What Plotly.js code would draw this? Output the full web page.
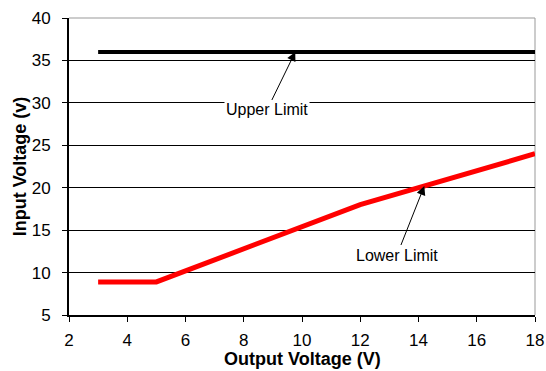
<!DOCTYPE html>
<html><head><meta charset="utf-8">
<script src="https://cdn.plot.ly/plotly-3.0.1.min.js"></script>
<style>html,body{margin:0;padding:0;background:#fff}#c{width:546px;height:371px}</style>
</head><body><div id="c"></div>
<script>
const upperX = [3, 18];
const upperY = [36, 36];
const lowerX = [3, 5, 12, 18];
const lowerY = [8.9, 8.9, 18, 24];
const xTicks = [2, 4, 6, 8, 10, 12, 14, 16, 18];
const yTicks = [5, 10, 15, 20, 25, 30, 35, 40];
const xTitle = 'Output Voltage (V)';
const yTitle = 'Input Voltage (v)';

const traces = [
  {x: upperX, y: upperY, mode: 'lines', line: {color: '#000', width: 4}, cliponaxis: false, hoverinfo: 'skip'},
  {x: lowerX, y: lowerY, mode: 'lines', line: {color: '#ff0000', width: 5}, cliponaxis: false, hoverinfo: 'skip'}
];
const layout = {
  width: 546, height: 371,
  margin: {l: 69, r: 11, t: 18, b: 56},
  paper_bgcolor: '#fff', plot_bgcolor: '#fff',
  showlegend: false,
  font: {family: 'Arial, Liberation Sans, sans-serif', color: '#000', size: 16},
  xaxis: {
    range: [2, 18], tickvals: xTicks, ticktext: xTicks.map(String),
    showgrid: false, zeroline: false,
    showline: true, linecolor: '#000', linewidth: 2,
    ticks: 'outside', ticklen: 5, tickwidth: 1, tickcolor: '#000',
    ticklabelstandoff: 4,
    tickfont: {size: 17}
  },
  yaxis: {
    range: [5, 40], tickvals: yTicks, ticktext: yTicks.map(String),
    showgrid: true, gridcolor: '#000', gridwidth: 1, zeroline: false,
    showline: true, linecolor: '#000', linewidth: 2,
    ticks: 'outside', ticklen: 5, tickwidth: 1, tickcolor: '#000',
    ticklabelstandoff: 8,
    tickfont: {size: 17},
    title: {text: '<b>' + yTitle + '</b>', font: {size: 18}, standoff: 0}
  },
  shapes: [
    {type: 'line', xref: 'paper', yref: 'paper', x0: 0, x1: 1, y0: 1, y1: 1, line: {color: '#999', width: 1}, layer: 'above'},
    {type: 'line', xref: 'paper', yref: 'paper', x0: 1, x1: 1, y0: 0, y1: 1, line: {color: '#999', width: 1}, layer: 'below'}
  ],
  annotations: [
    {x: 9.77, y: 36, text: 'Upper Limit', showarrow: true,
     arrowhead: 2, arrowsize: 1.8, arrowwidth: 1, arrowcolor: '#000', bgcolor: '#fff',
     font: {size: 16}, standoff: 0},
    {x: 14.2, y: 20.2, text: 'Lower Limit', showarrow: true,
     arrowhead: 2, arrowsize: 1.8, arrowwidth: 1, arrowcolor: '#000', bgcolor: '#fff',
     font: {size: 16}, standoff: 0},
    {xref: 'paper', yref: 'paper', x: 0.5, y: -(359 - 315) / 297, xanchor: 'center', yanchor: 'middle',
     text: '<b>' + xTitle + '</b>', showarrow: false, font: {size: 18}}
  ]
};
const px = (x) => 69 + (x - 2) / 16 * 466;
const py = (y) => 18 + (40 - y) / 35 * 297;
layout.annotations[0].ax = 267 - px(9.77); layout.annotations[0].ay = 110 - py(36);
layout.annotations[1].ax = 397 - px(14.2); layout.annotations[1].ay = 255 - py(20.2);
Plotly.newPlot('c', traces, layout, {staticPlot: true});
</script></body></html>
